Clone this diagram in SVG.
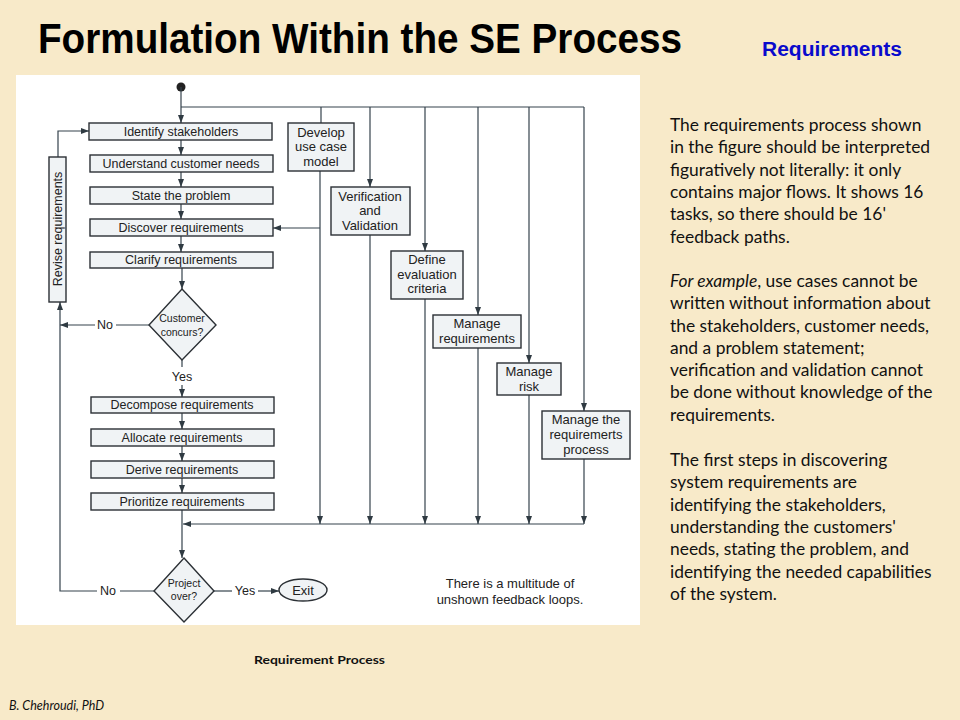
<svg xmlns="http://www.w3.org/2000/svg" width="960" height="720" viewBox="0 0 960 720">
<defs>
<marker id="ah" viewBox="0 0 8 6" refX="8" refY="3" markerWidth="8" markerHeight="6" markerUnits="userSpaceOnUse" orient="auto">
<path d="M0,0 L8,3 L0,6 z" fill="#2f3a42"/>
</marker>
<style>
.box{fill:#f0f3f5;stroke:#2b3035;stroke-width:1.4}
.ln{stroke:#34424c;stroke-width:1.2;fill:none}
.arr{marker-end:url(#ah)}
.t{font-family:"Liberation Sans",Arial,sans-serif;font-size:12.5px;fill:#222;text-anchor:middle}
.t13{font-family:"Liberation Sans",Arial,sans-serif;font-size:13px;fill:#222;text-anchor:middle}
.ts{font-family:"Liberation Sans",Arial,sans-serif;font-size:10.5px;fill:#222;text-anchor:middle}
.body{font-family:Lato,"Open Sans",sans-serif;font-size:17.4px;fill:#111}
</style>
</defs>
<rect x="0" y="0" width="960" height="720" fill="#f8eac9"/>
<text x="38" y="53" font-family="'Liberation Sans',Arial,sans-serif" font-weight="bold" font-size="43" fill="#000" textLength="644" lengthAdjust="spacingAndGlyphs">Formulation Within the SE Process</text>
<text x="762" y="56" font-family="'Liberation Sans',Arial,sans-serif" font-weight="bold" font-size="20" fill="#0a0acc" textLength="140" lengthAdjust="spacingAndGlyphs">Requirements</text>

<rect x="16" y="75" width="624" height="550" fill="#ffffff"/>

<g id="connectors">
<circle cx="181" cy="87" r="4.5" fill="#222"/>
<line class="ln arr" x1="181" y1="87" x2="181" y2="123"/>
<polyline class="ln" points="181,107 584,107"/>
<line class="ln" x1="321" y1="107" x2="321" y2="123"/>
<line class="ln arr" x1="370" y1="107" x2="370" y2="187"/>
<line class="ln arr" x1="425" y1="107" x2="425" y2="251"/>
<line class="ln arr" x1="478" y1="107" x2="478" y2="315"/>
<line class="ln arr" x1="529" y1="107" x2="529" y2="363"/>
<line class="ln arr" x1="584" y1="107" x2="584" y2="411"/>
<line class="ln arr" x1="181" y1="140" x2="181" y2="155"/>
<line class="ln arr" x1="181" y1="172" x2="181" y2="187"/>
<line class="ln arr" x1="181" y1="204" x2="181" y2="219"/>
<line class="ln arr" x1="181" y1="236" x2="181" y2="252"/>
<line class="ln arr" x1="182" y1="268" x2="182" y2="289"/>
<line class="ln" x1="182" y1="360" x2="182" y2="367"/>
<line class="ln arr" x1="182" y1="385" x2="182" y2="397"/>
<line class="ln arr" x1="182" y1="413" x2="182" y2="429"/>
<line class="ln arr" x1="182" y1="446" x2="182" y2="461"/>
<line class="ln arr" x1="182" y1="478" x2="182" y2="493"/>
<line class="ln arr" x1="182" y1="510" x2="182" y2="558"/>
<line class="ln arr" x1="584" y1="524" x2="183" y2="524"/>
<line class="ln arr" x1="320" y1="171" x2="320" y2="524"/>
<line class="ln arr" x1="370" y1="235" x2="370" y2="524"/>
<line class="ln arr" x1="425" y1="299" x2="425" y2="524"/>
<line class="ln arr" x1="478" y1="348" x2="478" y2="524"/>
<line class="ln arr" x1="529" y1="395" x2="529" y2="524"/>
<line class="ln arr" x1="584" y1="459" x2="584" y2="524"/>
<line class="ln arr" x1="320" y1="228" x2="273" y2="228"/>
<line class="ln" x1="149" y1="325" x2="116" y2="325"/>
<line class="ln arr" x1="95" y1="325" x2="60" y2="325"/>
<polyline class="ln" points="154,591 120,591"/>
<polyline class="ln arr" points="97,591 60,591 60,302"/>
<polyline class="ln arr" points="58,157 58,131 89,131"/>
<line class="ln" x1="214" y1="591" x2="232" y2="591"/>
<line class="ln arr" x1="258" y1="591" x2="279" y2="591"/>
<text class="t" x="105" y="329">No</text>
<text class="t" x="182" y="381">Yes</text>
<text class="t" x="108" y="595">No</text>
<text class="t" x="245" y="595">Yes</text>
</g>

<g id="identify"><rect class="box" x="89" y="123" width="183" height="17"/><text class="t" x="181" y="136">Identify stakeholders</text></g>
<g id="understand"><rect class="box" x="90" y="155" width="183" height="17"/><text class="t" x="181" y="168">Understand customer needs</text></g>
<g id="state"><rect class="box" x="90" y="187" width="183" height="17"/><text class="t" x="181" y="200">State the problem</text></g>
<g id="discover"><rect class="box" x="90" y="219" width="183" height="17"/><text class="t" x="181" y="232">Discover requirements</text></g>
<g id="clarify"><rect class="box" x="90" y="252" width="183" height="16"/><text class="t" x="181" y="264">Clarify requirements</text></g>
<g id="revise"><rect class="box" x="49" y="157" width="17" height="145"/><text class="t" transform="translate(62,229) rotate(-90)" x="0" y="0">Revise requirements</text></g>
<g id="concurs"><polygon class="box" points="182,289 216,325 182,360 149,325"/><text class="ts" x="182" y="322">Customer</text><text class="ts" x="182" y="336">concurs?</text></g>
<g id="decompose"><rect class="box" x="91" y="397" width="183" height="16"/><text class="t" x="182" y="409">Decompose requirements</text></g>
<g id="allocate"><rect class="box" x="91" y="429" width="183" height="17"/><text class="t" x="182" y="442">Allocate requirements</text></g>
<g id="derive"><rect class="box" x="91" y="461" width="183" height="17"/><text class="t" x="182" y="474">Derive requirements</text></g>
<g id="prioritize"><rect class="box" x="91" y="493" width="183" height="17"/><text class="t" x="182" y="506">Prioritize requirements</text></g>
<g id="develop"><rect class="box" x="288" y="123" width="66" height="48"/><text class="t13" x="321" y="137">Develop</text><text class="t13" x="321" y="151">use case</text><text class="t13" x="321" y="166">model</text></g>
<g id="vv"><rect class="box" x="331" y="187" width="79" height="48"/><text class="t13" x="370" y="201">Verification</text><text class="t13" x="370" y="215">and</text><text class="t13" x="370" y="230">Validation</text></g>
<g id="define"><rect class="box" x="391" y="251" width="72" height="48"/><text class="t13" x="427" y="264">Define</text><text class="t13" x="427" y="279">evaluation</text><text class="t13" x="427" y="293">criteria</text></g>
<g id="managereq"><rect class="box" x="433" y="315" width="88" height="33"/><text class="t13" x="477" y="328">Manage</text><text class="t13" x="477" y="343">requirements</text></g>
<g id="managerisk"><rect class="box" x="497" y="363" width="64" height="32"/><text class="t13" x="529" y="376">Manage</text><text class="t13" x="529" y="391">risk</text></g>
<g id="manageproc"><rect class="box" x="542" y="411" width="88" height="48"/><text class="t13" x="586" y="424">Manage the</text><text class="t13" x="586" y="439">requiremerts</text><text class="t13" x="586" y="454">process</text></g>
<g id="project"><polygon class="box" points="184,558 214,591 184,622 154,591"/><text class="ts" x="184" y="587">Project</text><text class="ts" x="184" y="600">over?</text></g>
<g id="exit"><ellipse class="box" cx="303" cy="590" rx="24" ry="11"/><text class="t13" x="303" y="595">Exit</text></g>
<g id="note"><text class="t13" x="510" y="588">There is a multitude of</text><text class="t13" x="510" y="604">unshown feedback loops.</text></g>

<g id="body">
<text class="body" x="670" y="131">The requirements process shown</text>
<text class="body" x="670" y="153">in the figure should be interpreted</text>
<text class="body" x="670" y="176">figuratively not literally: it only</text>
<text class="body" x="670" y="198">contains major flows. It shows 16</text>
<text class="body" x="670" y="220">tasks, so there should be 16'</text>
<text class="body" x="670" y="243">feedback paths.</text>
<text class="body" x="670" y="287"><tspan font-style="italic">For example</tspan>, use cases cannot be</text>
<text class="body" x="670" y="309">written without information about</text>
<text class="body" x="670" y="332">the stakeholders, customer needs,</text>
<text class="body" x="670" y="354">and a problem statement;</text>
<text class="body" x="670" y="376">verification and validation cannot</text>
<text class="body" x="670" y="398">be done without knowledge of the</text>
<text class="body" x="670" y="421">requirements.</text>
<text class="body" x="670" y="466">The first steps in discovering</text>
<text class="body" x="670" y="488">system requirements are</text>
<text class="body" x="670" y="511">identifying the stakeholders,</text>
<text class="body" x="670" y="533">understanding the customers'</text>
<text class="body" x="670" y="555">needs, stating the problem, and</text>
<text class="body" x="670" y="578">identifying the needed capabilities</text>
<text class="body" x="670" y="600">of the system.</text>
</g>
<text x="254" y="664" font-family="Lato,'Open Sans',sans-serif" font-weight="bold" font-size="12" fill="#111" textLength="131" lengthAdjust="spacingAndGlyphs">Requirement Process</text>
<text x="9" y="710" font-family="Lato,'Open Sans',sans-serif" font-style="italic" font-size="12.5" fill="#111">B. Chehroudi, PhD</text>
</svg>
